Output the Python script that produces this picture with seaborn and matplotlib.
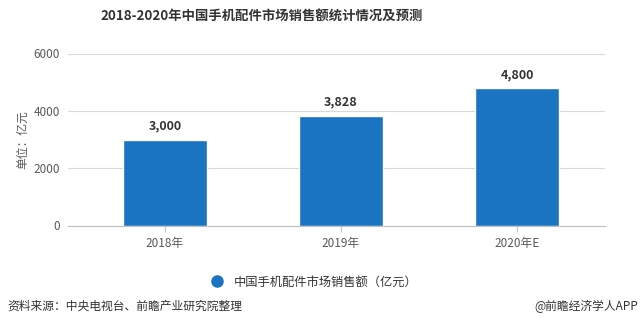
import matplotlib
matplotlib.use("Agg")
import matplotlib.pyplot as plt
from matplotlib.lines import Line2D
import seaborn as sns
import pandas as pd

years = ["2018年", "2019年", "2020年E"]
sales = [3000, 3828, 4800]
series_name = "中国手机配件市场销售额（亿元）"
yticks = [0, 2000, 4000, 6000]

sns.set_theme(style="white")
plt.rcParams['font.family'] = ['Noto Sans CJK SC', 'DejaVu Sans']

BLUE = "#1a74c2"
GREY = "#595959"

df = pd.DataFrame({"year": years, "sales": sales})

fig = plt.figure(figsize=(6.42, 3.26), dpi=100)
ax = fig.add_axes([68/642, (326-225.5)/326, (605-68)/642, (225.5-53.5)/326])
sns.barplot(data=df, x="year", y="sales", color=BLUE, width=0.48, ax=ax, saturation=1)

ax.set_xlim(-0.55, 2.5)
ax.set_ylim(0, 6000)
ax.set_yticks(yticks)
ax.set_yticklabels([str(v) for v in yticks])
ax.grid(axis="y", color="#d9d9d9", linewidth=0.8)
ax.set_axisbelow(True)
for s in ["top", "right", "left"]:
    ax.spines[s].set_visible(False)
ax.spines["bottom"].set_color("#bfbfbf")
ax.spines["bottom"].set_linewidth(0.8)
ax.tick_params(axis="y", length=0, pad=6, labelsize=8.5, labelcolor=GREY)
ax.tick_params(axis="x", length=4, width=0.8, color="#bfbfbf", pad=4,
               labelsize=8.5, labelcolor=GREY, bottom=True, direction="out")
ax.set_xlabel("")
ax.set_ylabel("单位：亿元", fontsize=8.5, color=GREY, labelpad=3)

for i, v in enumerate(sales):
    ax.annotate(f"{v:,}", (i, v), xytext=(0, 5), textcoords="offset points",
                ha="center", va="bottom", fontsize=9, fontweight="bold", color="#333333")

fig.text(262/642, 1 - 17/326, "2018-2020年中国手机配件市场销售额统计情况及预测",
         ha="center", va="center", fontsize=9.6, fontweight="bold", color="#333333")

handle = Line2D([], [], marker="o", linestyle="none", markersize=8,
                markerfacecolor=BLUE, markeredgecolor=BLUE)
fig.legend([handle], [series_name], loc="center", bbox_to_anchor=(311/642, 1 - 282/326),
           frameon=False, fontsize=8.8, handletextpad=0.4, labelcolor="#333333")

fig.text(7/642, 1 - 306/326, "资料来源：中央电视台、前瞻产业研究院整理",
         ha="left", va="center", fontsize=8.5, color="#333333")
fig.text(638/642, 1 - 306/326, "@前瞻经济学人APP",
         ha="right", va="center", fontsize=8.5, color="#333333")

fig.savefig("out.png", dpi=100)
